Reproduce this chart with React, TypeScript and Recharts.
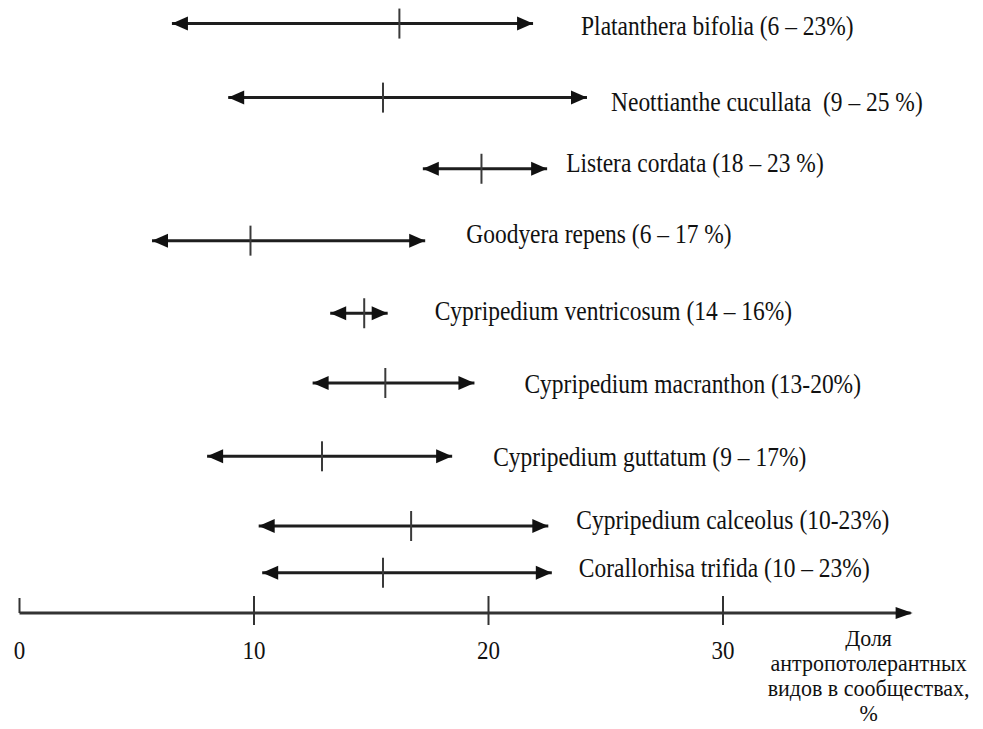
import React from 'react';
import { ScatterChart, Scatter, XAxis, YAxis } from 'recharts';

// species rows, top to bottom
const species = [
  'Platanthera bifolia',
  'Neottianthe cucullata',
  'Listera cordata',
  'Goodyera repens',
  'Cypripedium ventricosum',
  'Cypripedium macranthon',
  'Cypripedium guttatum',
  'Cypripedium calceolus',
  'Corallorhisa trifida',
];
const rangeTexts = [
  '(6 – 23%)',
  ' (9 – 25 %)',
  '(18 – 23 %)',
  '(6 – 17 %)',
  '(14 – 16%)',
  '(13-20%)',
  '(9 – 17%)',
  '(10-23%)',
  '(10 – 23%)',
];

// values (share of species, %)
const lowValues = [6.5, 8.9, 17.2, 5.65, 13.25, 12.5, 8.0, 10.2, 10.35];
const midValues = [16.2, 15.5, 19.7, 9.85, 14.7, 15.6, 12.9, 16.7, 15.5];
const highValues = [21.9, 24.2, 22.5, 17.3, 15.7, 19.4, 18.45, 22.55, 22.7];
const rowLevels = [8.2, 7.17, 6.18, 5.18, 4.17, 3.2, 2.18, 1.21, 0.56];

const xTicks = [0, 10, 20, 30];
const axisTitle = ['Доля', 'антропотолерантных', 'видов в сообществах,', '%'];

// label placement relative to the right arrow tip: [dx, dy]
const labelOffsets = [
  [48, 11], [24, 13], [19, 3], [41, 2], [47, 7], [50, 10], [41, 10], [28, 3], [27, 4],
];

const FONT = '"Liberation Serif", "Times New Roman", serif';
const INK = '#111';

const rows = species.map((name, i) => [
  { x: lowValues[i], y: rowLevels[i], role: 'low' },
  { x: midValues[i], y: rowLevels[i], role: 'mid' },
  {
    x: highValues[i],
    y: rowLevels[i],
    role: 'high',
    label: `${name} ${rangeTexts[i]}`,
    dx: labelOffsets[i][0],
    dy: labelOffsets[i][1],
  },
]);

const ArrowPoint = (props: any) => {
  const { cx, cy, payload } = props;
  if (payload.role === 'low') {
    return <polygon points={`${cx},${cy} ${cx + 16},${cy - 7} ${cx + 16},${cy + 7}`} fill={INK} />;
  }
  if (payload.role === 'mid') {
    return <line x1={cx} x2={cx} y1={cy - 15} y2={cy + 15} stroke="#3a3a3a" strokeWidth={2} />;
  }
  return (
    <g>
      <polygon points={`${cx},${cy} ${cx - 16},${cy - 7} ${cx - 16},${cy + 7}`} fill={INK} />
      <text
        transform={`translate(${cx + payload.dx},${cy + payload.dy}) scale(1,1.12)`}
        fontFamily={FONT}
        fontSize={23.5}
        fill={INK}
        style={{ whiteSpace: 'pre' }}
      >
        {payload.label}
      </text>
    </g>
  );
};

const AxisTick = (props: any) => {
  const { x, y, payload } = props;
  const isZero = payload.value === 0;
  return (
    <g>
      <line x1={x} x2={x} y1={y - (isZero ? 15 : 17)} y2={isZero ? y : y + 12} stroke="#333" strokeWidth={2} />
      <text
        transform={`translate(${x},${y + 46}) scale(1,1.1)`}
        textAnchor="middle"
        fontFamily={FONT}
        fontSize={23}
        fill={INK}
      >
        {payload.value}
      </text>
    </g>
  );
};

const AxisTitle = (props: any) => {
  const vb = props.viewBox || { x: 19.5, y: 613, width: 891, height: 40 };
  const ex = vb.x + vb.width;
  const ay = vb.y;
  return (
    <g>
      <polygon points={`${ex + 2},${ay} ${ex - 15},${ay - 6} ${ex - 15},${ay + 6}`} fill={INK} />
      {axisTitle.map((line, i) => (
        <text
          key={line}
          transform={`translate(${ex - 42},${ay + 33 + 25 * i}) scale(1,1.08)`}
          textAnchor="middle"
          fontFamily={FONT}
          fontSize={22}
          fill={INK}
        >
          {line}
        </text>
      ))}
    </g>
  );
};

export default function App() {
  return (
    <div style={{ position: 'absolute', left: 0, top: 0, width: 983, height: 729, background: '#fff' }}>
      <ScatterChart width={983} height={729} margin={{ top: 2, right: 72.4, bottom: 76, left: 19.5 }}>
        <XAxis
          type="number"
          dataKey="x"
          domain={[0, 38]}
          ticks={xTicks}
          height={40}
          tickSize={0}
          tickMargin={0}
          tickLine={false}
          axisLine={{ stroke: '#333', strokeWidth: 3 }}
          tick={<AxisTick />}
          label={<AxisTitle />}
        />
        <YAxis type="number" dataKey="y" domain={[0, 8.5]} hide />
        {rows.map((data, i) => (
          <Scatter
            key={species[i]}
            data={data}
            line={{ stroke: '#1e1e1e', strokeWidth: 3 }}
            lineJointType="linear"
            shape={<ArrowPoint />}
            isAnimationActive={false}
          />
        ))}
      </ScatterChart>
    </div>
  );
}
